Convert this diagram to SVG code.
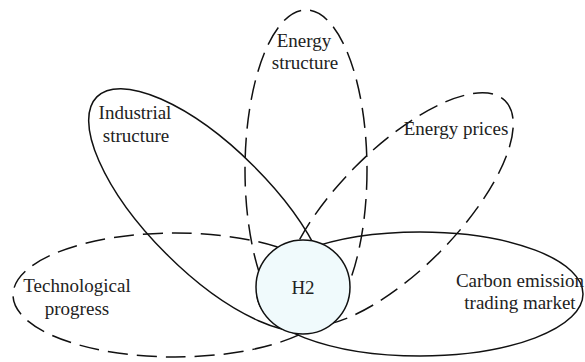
<svg xmlns="http://www.w3.org/2000/svg" width="585" height="362" viewBox="0 0 585 362">
  <style>
    .petal { fill: none; stroke: #111; stroke-width: 1.5; }
    .dashed { stroke-dasharray: 20 9; }
    .label { font-family: "Liberation Serif", "Times New Roman", serif; font-size: 19px; fill: #222; text-anchor: middle; }
    .core { fill: #f0fafc; stroke: #111; stroke-width: 1.5; }
  </style>
  <rect width="585" height="362" fill="#ffffff"/>

  <!-- factor petals radiating from the central H2 node -->
  <g id="technological-progress">
    <ellipse class="petal dashed" cx="175" cy="295" rx="162" ry="62"/>
  </g>
  <g id="industrial-structure">
    <ellipse class="petal" cx="210" cy="210" rx="160" ry="62" transform="rotate(45 210 210)"/>
  </g>
  <g id="energy-structure">
    <ellipse class="petal dashed" cx="306" cy="170" rx="61" ry="160"/>
  </g>
  <g id="energy-prices">
    <ellipse class="petal dashed" cx="397.5" cy="209.5" rx="153" ry="60" transform="rotate(-45.3 397.5 209.5)"/>
  </g>
  <g id="carbon-market">
    <ellipse class="petal" cx="420" cy="294" rx="163" ry="62"/>
  </g>

  <!-- central node drawn over the petal ends -->
  <g id="h2">
    <circle class="core" cx="303" cy="287" r="47"/>
    <text class="label" x="303" y="294">H2</text>
  </g>

  <!-- petal labels -->
  <g id="labels">
    <text class="label" x="304" y="47">Energy</text>
    <text class="label" x="305" y="69">structure</text>
    <text class="label" x="135" y="119">Industrial</text>
    <text class="label" x="136" y="142">structure</text>
    <text class="label" x="456" y="135">Energy prices</text>
    <text class="label" x="77" y="292">Technological</text>
    <text class="label" x="77" y="315">progress</text>
    <text class="label" x="520" y="287">Carbon emission</text>
    <text class="label" x="520" y="309">trading market</text>
  </g>
</svg>
